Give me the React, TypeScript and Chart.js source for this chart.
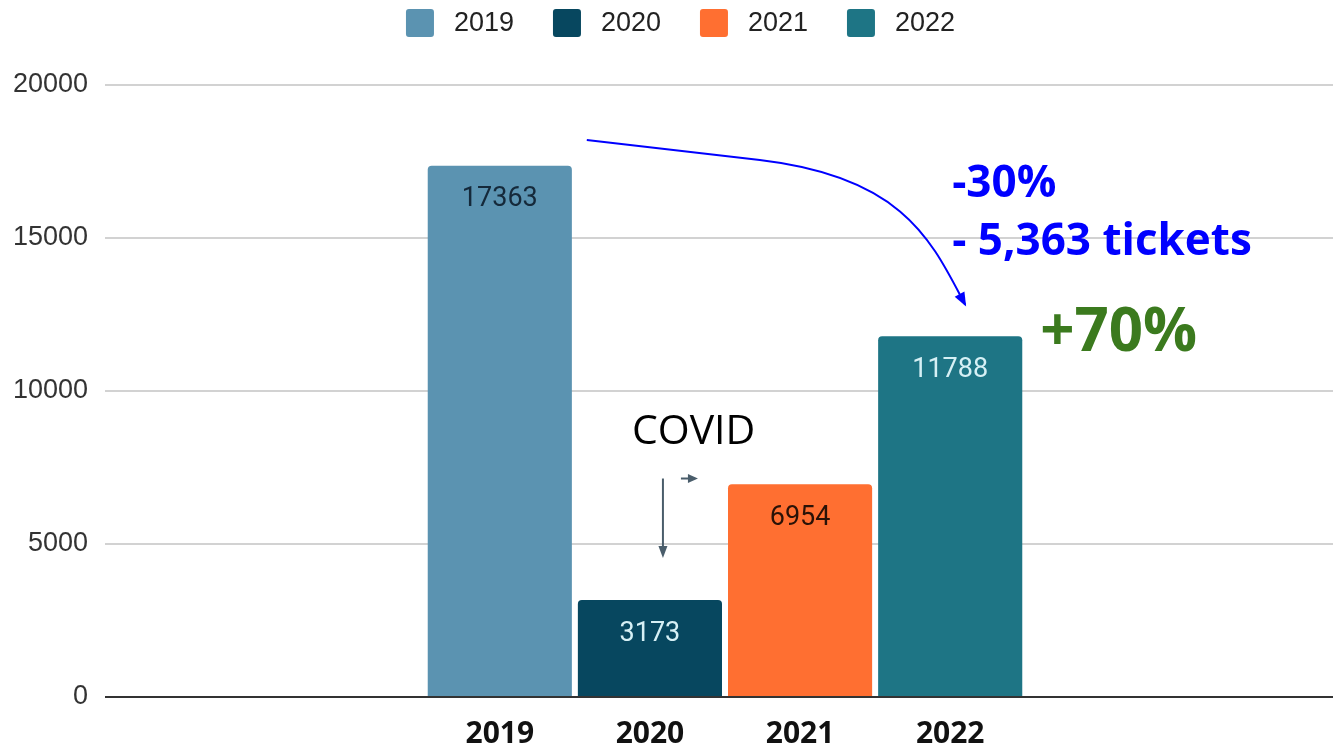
import React, { useEffect, useRef } from "react";
import { Chart, registerables } from "chart.js";

Chart.register(...registerables);

const categories = ["Tickets"];
const years = ["2019", "2020", "2021", "2022"];
const values = [17363, 3173, 6954, 11788];
const barColors = ["#5b93b1", "#07475f", "#ff6f31", "#1e7585"];
const labelColors = ["#15293a", "#d6f0f5", "#2a1207", "#d6f0f5"];
const yTicks = [0, 5000, 10000, 15000, 20000];

const overlayPlugin = {
  id: "overlay",
  afterDatasetsDraw(chart: any) {
    const { ctx, scales } = chart;
    const y = scales.y;
    const bars = chart.data.datasets.map((_: any, i: number) => chart.getDatasetMeta(i).data[0]);

    // value labels inside bars
    ctx.save();
    ctx.textAlign = "center";
    ctx.textBaseline = "middle";
    ctx.font = "27px Roboto";
    bars.forEach((b: any, i: number) => {
      ctx.fillStyle = labelColors[i];
      ctx.fillText(String(values[i]), b.x, b.y + 34);
    });

    // x labels under bars
    ctx.font = "bold 30px 'Open Sans'";
    ctx.fillStyle = "#111";
    bars.forEach((b: any, i: number) => {
      ctx.fillText(years[i], b.x, y.getPixelForValue(0) + 37);
    });
    ctx.restore();

    // blue curved arrow from 2019 to 2022
    const b0 = bars[0];
    const b3 = bars[3];
    const sx = b0.x + 87, sy = y.getPixelForValue(18200);
    const ex = b3.x + 15, ey = y.getPixelForValue(12820);
    const mx = sx + 173, my = sy + 20;
    const c1x = ex - 60, c1y = sy + 37;
    const c2x = ex - 33, c2y = ey - 62;
    ctx.save();
    ctx.strokeStyle = "#0000ff";
    ctx.fillStyle = "#0000ff";
    ctx.lineWidth = 2;
    ctx.beginPath();
    ctx.moveTo(sx, sy);
    ctx.lineTo(mx, my);
    ctx.bezierCurveTo(c1x, c1y, c2x, c2y, ex, ey);
    ctx.stroke();
    const ang = Math.atan2(ey - c2y, ex - c2x);
    ctx.beginPath();
    ctx.moveTo(ex + 2 * Math.cos(ang), ey + 2 * Math.sin(ang));
    ctx.lineTo(ex - 12 * Math.cos(ang) + 5.5 * Math.sin(ang), ey - 12 * Math.sin(ang) - 5.5 * Math.cos(ang));
    ctx.lineTo(ex - 12 * Math.cos(ang) - 5.5 * Math.sin(ang), ey - 12 * Math.sin(ang) + 5.5 * Math.cos(ang));
    ctx.closePath();
    ctx.fill();

    // annotation texts
    ctx.textAlign = "left";
    ctx.textBaseline = "middle";
    ctx.font = "bold 44px 'Open Sans'";
    ctx.fillText("-30%", b3.x + 2, y.getPixelForValue(16760));
    ctx.fillText("- 5,363 tickets", b3.x + 2, y.getPixelForValue(14860));
    ctx.fillStyle = "#3b7a1e";
    ctx.font = "bold 60px 'Open Sans'";
    ctx.fillText("+70%", b3.x + 90, y.getPixelForValue(11860));

    // COVID note
    const b1 = bars[1];
    ctx.fillStyle = "#000";
    ctx.font = "41px 'Open Sans'";
    ctx.fillText("COVID", b1.x - 18, y.getPixelForValue(8660));
    ctx.strokeStyle = "#4a5d6b";
    ctx.fillStyle = "#4a5d6b";
    ctx.lineWidth = 2;
    const ax = b1.x + 13;
    const ay1 = y.getPixelForValue(7140);
    const ay2 = y.getPixelForValue(4540);
    ctx.beginPath();
    ctx.moveTo(ax, ay1);
    ctx.lineTo(ax, ay2 - 10);
    ctx.stroke();
    ctx.beginPath();
    ctx.moveTo(ax, ay2);
    ctx.lineTo(ax - 4.5, ay2 - 12);
    ctx.lineTo(ax + 4.5, ay2 - 12);
    ctx.closePath();
    ctx.fill();
    const hx = b1.x + 31;
    ctx.beginPath();
    ctx.moveTo(hx, ay1);
    ctx.lineTo(hx + 8, ay1);
    ctx.stroke();
    ctx.beginPath();
    ctx.moveTo(hx + 17, ay1);
    ctx.lineTo(hx + 7, ay1 - 4.5);
    ctx.lineTo(hx + 7, ay1 + 4.5);
    ctx.closePath();
    ctx.fill();
    ctx.restore();
  },
  afterDraw(chart: any) {
    // legend
    const { ctx } = chart;
    const pitch = 147;
    ctx.save();
    ctx.font = "27px 'Liberation Sans'";
    const lastW = ctx.measureText(years[years.length - 1]).width;
    const total = pitch * (years.length - 1) + 48 + lastW;
    let x = 1333 / 2 + 14 - total / 2;
    const cy = 23;
    ctx.textBaseline = "middle";
    ctx.textAlign = "left";
    chart.data.datasets.forEach((ds: any) => {
      ctx.fillStyle = ds.backgroundColor;
      ctx.beginPath();
      ctx.roundRect(x, cy - 14, 28, 28, 3);
      ctx.fill();
      ctx.fillStyle = "#222";
      ctx.fillText(ds.label, x + 48, cy + 1);
      x += pitch;
    });
    ctx.restore();
  },
};

export default function App() {
  const ref = useRef<HTMLCanvasElement>(null);
  useEffect(() => {
    if (!ref.current) return;
    const chart = new Chart(ref.current, {
      type: "bar",
      data: {
        labels: categories,
        datasets: years.map((yr, i) => ({
          label: yr,
          data: [values[i]],
          backgroundColor: barColors[i],
          borderRadius: { topLeft: 4, topRight: 4, bottomLeft: 0, bottomRight: 0 },
          borderSkipped: false,
          categoryPercentage: 0.4843,
          barPercentage: 0.96,
        })),
      },
      options: {
        animation: false,
        responsive: false,
        maintainAspectRatio: false,
        layout: { padding: { top: 85, bottom: 53, left: 0, right: 0 } },
        plugins: { legend: { display: false }, tooltip: { enabled: false } },
        scales: {
          x: { display: false },
          y: {
            min: 0,
            max: 20000,
            afterBuildTicks: (scale: any) => {
              scale.ticks = yTicks.map((v) => ({ value: v }));
            },
            afterFit: (scale: any) => {
              scale.width = 105;
            },
            border: { display: false },
            grid: {
              drawTicks: false,
              color: (c: any) => (c.tick && c.tick.value === 0 ? "#333" : "#d2d2d2"),
              lineWidth: 2,
            },
            ticks: {
              padding: 17,
              color: "#333",
              font: { family: "'Liberation Sans'", size: 27 },
              callback: (v: any) => String(v),
            },
          },
        },
      },
      plugins: [overlayPlugin],
    });
    return () => chart.destroy();
  }, []);
  return (
    <div style={{ position: "fixed", left: 0, top: 0, width: 1333, height: 750, background: "#fff", overflow: "hidden" }}>
      <canvas ref={ref} width={1345} height={750} style={{ display: "block" }} />
    </div>
  );
}
